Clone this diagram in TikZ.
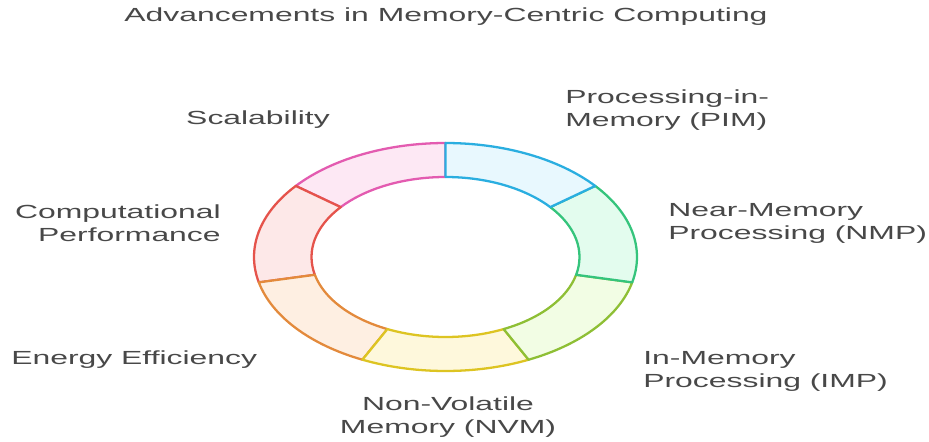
\documentclass[tikz,border=0pt]{standalone}
\usepackage{fontspec}
\setmainfont{Liberation Sans}[FakeStretch=1.68]

\definecolor{txt}{HTML}{484848}
\definecolor{pimline}{HTML}{2AAEE0}
\definecolor{pimfill}{HTML}{E8F8FE}
\definecolor{nmpline}{HTML}{35C47C}
\definecolor{nmpfill}{HTML}{E3FCEE}
\definecolor{impline}{HTML}{8EBF35}
\definecolor{impfill}{HTML}{F2FDE4}
\definecolor{nvmline}{HTML}{DDC422}
\definecolor{nvmfill}{HTML}{FEF8DC}
\definecolor{eneline}{HTML}{E38A3C}
\definecolor{enefill}{HTML}{FEEFE2}
\definecolor{comline}{HTML}{E5534B}
\definecolor{comfill}{HTML}{FDE8E8}
\definecolor{scaline}{HTML}{E35BB0}
\definecolor{scafill}{HTML}{FDE8F4}

\tikzset{
  seg/.style={line width=1.3pt, line join=round},
  lbl/.style={text=txt, inner sep=0pt, font=\fontsize{10.8}{13}\selectfont}
}

\begin{document}
\begin{tikzpicture}[x=0.02cm, y=0.02cm]
\useasboundingbox (0,0) rectangle (929,441);

\node[lbl] (title) at (446,424) {Advancements in Memory-Centric Computing};

% ring, drawn from the last part back to the first
\begin{scope}[shift={(445.5,184)}]
\draw[seg, draw=scaline, fill=scafill] (-218.571:191.5 and 114) arc[start angle=-218.571, end angle=-270, x radius=191.5, y radius=114] -- (-270:134 and 80) arc[start angle=-270, end angle=-218.571, x radius=134, y radius=80] -- cycle;
\draw[seg, draw=comline, fill=comfill] (-167.143:191.5 and 114) arc[start angle=-167.143, end angle=-218.571, x radius=191.5, y radius=114] -- (-218.571:134 and 80) arc[start angle=-218.571, end angle=-167.143, x radius=134, y radius=80] -- cycle;
\draw[seg, draw=eneline, fill=enefill] (-115.714:191.5 and 114) arc[start angle=-115.714, end angle=-167.143, x radius=191.5, y radius=114] -- (-167.143:134 and 80) arc[start angle=-167.143, end angle=-115.714, x radius=134, y radius=80] -- cycle;
\draw[seg, draw=nvmline, fill=nvmfill] (-64.286:191.5 and 114) arc[start angle=-64.286, end angle=-115.714, x radius=191.5, y radius=114] -- (-115.714:134 and 80) arc[start angle=-115.714, end angle=-64.286, x radius=134, y radius=80] -- cycle;
\draw[seg, draw=impline, fill=impfill] (-12.857:191.5 and 114) arc[start angle=-12.857, end angle=-64.286, x radius=191.5, y radius=114] -- (-64.286:134 and 80) arc[start angle=-64.286, end angle=-12.857, x radius=134, y radius=80] -- cycle;
\draw[seg, draw=nmpline, fill=nmpfill] (38.571:191.5 and 114) arc[start angle=38.571, end angle=-12.857, x radius=191.5, y radius=114] -- (-12.857:134 and 80) arc[start angle=-12.857, end angle=38.571, x radius=134, y radius=80] -- cycle;
\draw[seg, draw=pimline, fill=pimfill] (90:191.5 and 114) arc[start angle=90, end angle=38.571, x radius=191.5, y radius=114] -- (38.571:134 and 80) arc[start angle=38.571, end angle=90, x radius=134, y radius=80] -- cycle;
\end{scope}

\node[lbl, anchor=west, align=left] (pim) at (565,331) {Processing-in-\\Memory (PIM)};
\node[lbl, anchor=west, align=left] (nmp) at (668,217.5) {Near-Memory\\Processing (NMP)};
\node[lbl, anchor=west, align=left] (imp) at (643,69.5) {In-Memory\\Processing (IMP)};
\node[lbl, align=center] (nvm) at (448,24) {Non-Volatile\\Memory (NVM)};
\node[lbl, anchor=west] (ene) at (11,81) {Energy Efficiency};
\node[lbl, anchor=east, align=right] (com) at (221,217.5) {Computational\\Performance};
\node[lbl] (sca) at (258,321) {Scalability};
%\node[lbl] at (446,184) {};
\end{tikzpicture}
\end{document}
